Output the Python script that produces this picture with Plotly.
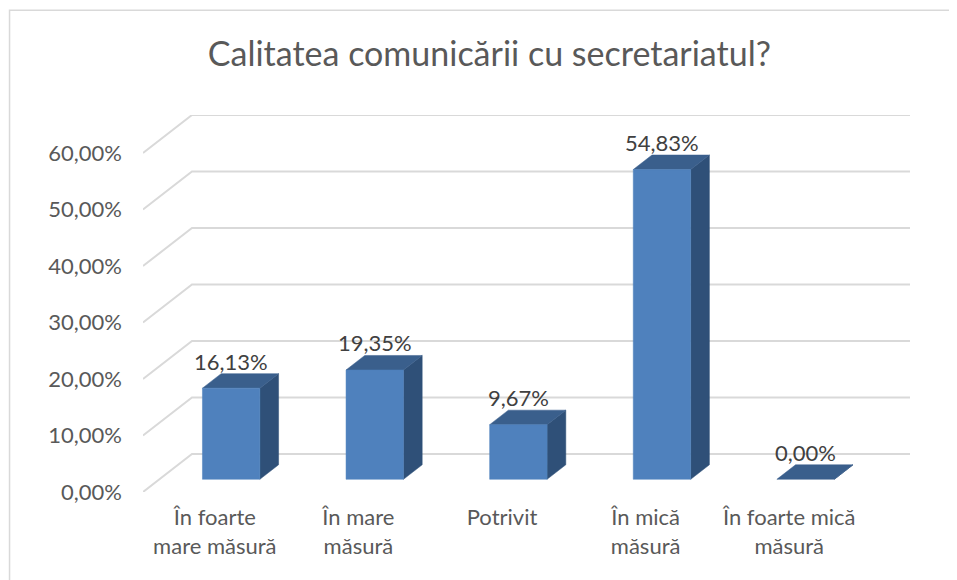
import plotly.graph_objects as go

# data
categories = ['În foarte<br>mare măsură', 'În mare<br>măsură', 'Potrivit', 'În mică<br>măsură', 'În foarte mică<br>măsură']
values = [16.13, 19.35, 9.67, 54.83, 0.00]
yTicks = [0, 10, 20, 30, 40, 50, 60]
yTickText = [f'{v:.2f}'.replace('.', ',') + '%' for v in yTicks]

# fake 3D projection: depth t in [0, 1] shifts points right (category units) and up (percent units)
DX = 0.341
DY = 6.73
T_FRONT = 0.334
T_BACK = 0.716
HALF_W = 0.2

FRONT_COL = '#4F81BD'
TOP_COL = '#3A5F8C'
SIDE_COL = '#2F5078'
GRID_COL = '#D9D9D9'
TEXT_COL = '#595959'
FONT = 'Lato'


def proj(x, y, t):
    return x + t*DX, y + t*DY


fig = go.Figure()

# gridlines: diagonal on the left wall, then horizontal on the back wall
gx, gy = [], []
for v in yTicks:
    for px_, py_ in [proj(0, v, 0), proj(0, v, 1), proj(len(categories), v, 1)]:
        gx.append(px_)
        gy.append(py_)
    gx.append(None)
    gy.append(None)
fig.add_trace(go.Scatter(x=gx, y=gy, mode='lines', line=dict(color=GRID_COL, width=2),
                         hoverinfo='skip', showlegend=False))


def face(pts, color):
    xs = [p[0] for p in pts] + [pts[0][0]]
    ys = [p[1] for p in pts] + [pts[0][1]]
    fig.add_trace(go.Scatter(x=xs, y=ys, mode='lines', fill='toself', fillcolor=color,
                             line=dict(color=color, width=0.5), hoverinfo='skip', showlegend=False))


for ii, v in enumerate(values):
    xl = ii + 0.5 - HALF_W
    xr = ii + 0.5 + HALF_W
    # side face
    face([proj(xr, 0, T_FRONT), proj(xr, 0, T_BACK), proj(xr, v, T_BACK), proj(xr, v, T_FRONT)], SIDE_COL)
    # top face
    face([proj(xl, v, T_FRONT), proj(xr, v, T_FRONT), proj(xr, v, T_BACK), proj(xl, v, T_BACK)], TOP_COL)
    # front face
    if v > 0:
        face([proj(xl, 0, T_FRONT), proj(xr, 0, T_FRONT), proj(xr, v, T_FRONT), proj(xl, v, T_FRONT)], FRONT_COL)
    lx = ii + 0.5 + T_FRONT*DX
    ly = v + T_BACK*DY
    fig.add_annotation(x=lx, y=ly, xref='x', yref='y', text=f'{v:.2f}'.replace('.', ',') + '%',
                       showarrow=False, yanchor='bottom', xanchor='center', yshift=-3,
                       font=dict(family=FONT, size=22, color='#404040'))

# the page puts the figure 8px in from the top-left corner, margins account for that
fig.update_layout(
    width=957, height=580,
    margin=dict(l=135, r=55, t=107, b=96),
    plot_bgcolor='white', paper_bgcolor='white',
    showlegend=False,
    title=dict(text='Calitatea comunicării cu secretariatul?', x=0.503, xanchor='center',
               y=0.92, yanchor='middle', font=dict(family=FONT, size=34, color=TEXT_COL)),
    xaxis=dict(range=[0, len(categories) + DX], tickvals=[ii + 0.5 for ii in range(len(categories))],
               ticktext=categories, showgrid=False, zeroline=False, showline=False, ticks='',
               ticklabelstandoff=10, tickfont=dict(family=FONT, size=22, color=TEXT_COL),
               fixedrange=True),
    yaxis=dict(range=[0, 60 + DY], tickvals=yTicks, ticktext=yTickText, showgrid=False,
               zeroline=False, showline=False, ticks='', ticklabelstandoff=20,
               tickfont=dict(family=FONT, size=22, color=TEXT_COL), fixedrange=True),
)

# chart area border (top and left visible in the reference)
fig.add_shape(type='rect', xref='paper', yref='paper', x0=-0.174, x1=1.2, y0=-0.5, y1=1.278,
              line=dict(color=GRID_COL, width=1.5), layer='below')

fig.write_html('out.html')
